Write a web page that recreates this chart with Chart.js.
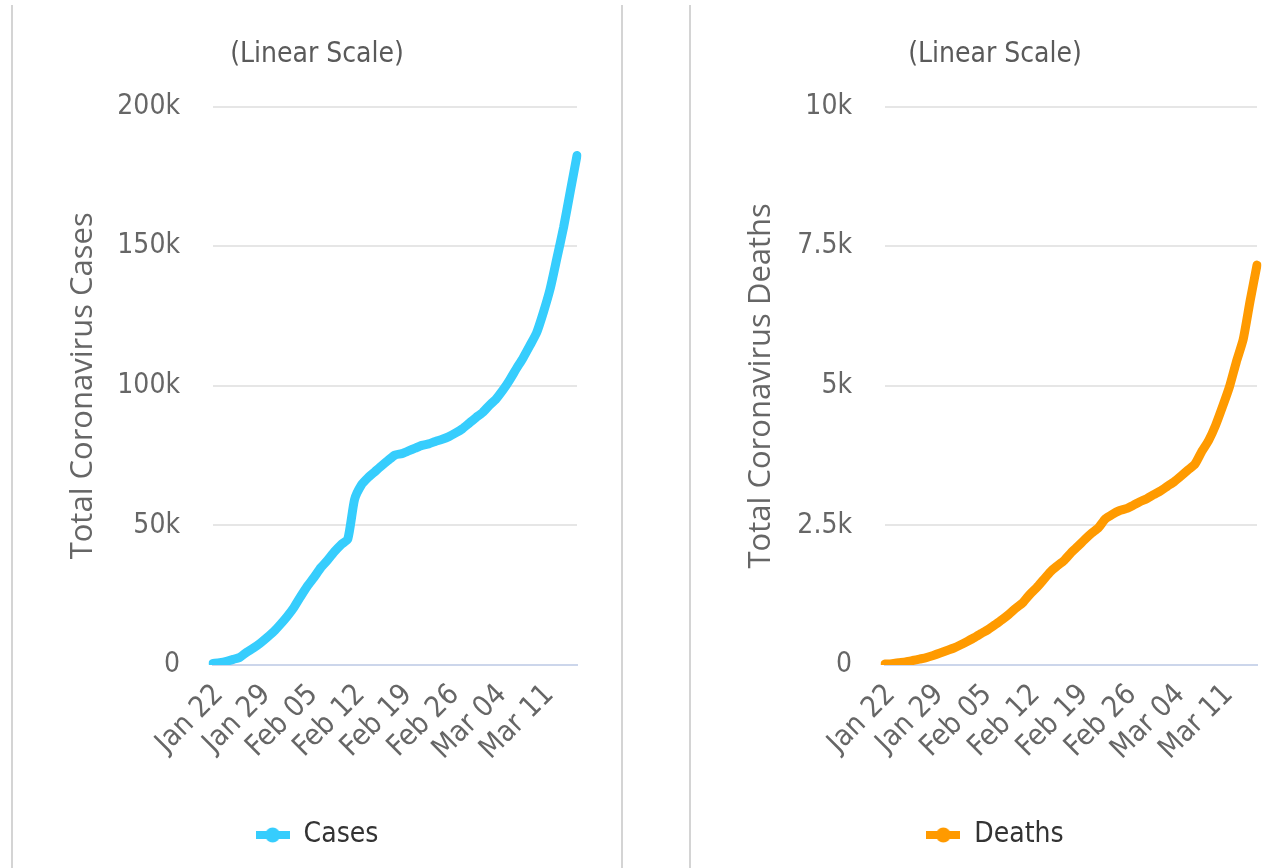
<!DOCTYPE html>
<html>
<head>
<meta charset="utf-8">
<script src="https://cdn.jsdelivr.net/npm/chart.js@4"></script>
<style>
  body { margin: 0; background: #fff; overflow: hidden; width: 1286px; height: 868px; position: relative; }
  .edge { position: absolute; top: 5px; bottom: 0; width: 2px; background: #d4d4d4; }
  .box { position: absolute; top: 0; width: 610px; height: 868px; }
</style>
</head>
<body>
<div class="edge" style="left:11px"></div>
<div class="edge" style="left:621px"></div>
<div class="edge" style="left:689px"></div>
<div class="box" style="left:12px"><canvas id="casesChart"></canvas></div>
<div class="box" style="left:690px"><canvas id="deathsChart"></canvas></div>
<script>
// dates, Jan 22 -> Mar 16 (2020)
const dates = [
  "Jan 22","Jan 23","Jan 24","Jan 25","Jan 26","Jan 27","Jan 28","Jan 29","Jan 30","Jan 31",
  "Feb 01","Feb 02","Feb 03","Feb 04","Feb 05","Feb 06","Feb 07","Feb 08","Feb 09","Feb 10",
  "Feb 11","Feb 12","Feb 13","Feb 14","Feb 15","Feb 16","Feb 17","Feb 18","Feb 19","Feb 20",
  "Feb 21","Feb 22","Feb 23","Feb 24","Feb 25","Feb 26","Feb 27","Feb 28","Feb 29",
  "Mar 01","Mar 02","Mar 03","Mar 04","Mar 05","Mar 06","Mar 07","Mar 08","Mar 09","Mar 10",
  "Mar 11","Mar 12","Mar 13","Mar 14","Mar 15","Mar 16"
];

const totalCases = [
  580, 845, 1317, 2015, 2800, 4581, 6058, 7813, 9823, 11950,
  14553, 17391, 20630, 24545, 28266, 31439, 34876, 37552, 40553, 43099,
  45134, 59287, 64438, 67100, 69197, 71329, 73332, 75184, 75700, 76677,
  77673, 78651, 79205, 80087, 80828, 81820, 83112, 84615, 86604,
  88585, 90443, 93016, 95314, 98425, 102050, 106099, 109991, 114381, 118948,
  126214, 134576, 145483, 156653, 169593, 182490
];

const totalDeaths = [
  17, 25, 41, 56, 80, 106, 132, 170, 213, 259,
  304, 362, 426, 492, 565, 638, 724, 813, 910, 1018,
  1115, 1261, 1383, 1526, 1669, 1775, 1873, 2009, 2126, 2247,
  2360, 2460, 2618, 2699, 2763, 2800, 2858, 2923, 2977,
  3050, 3117, 3202, 3285, 3387, 3494, 3599, 3827, 4025, 4296,
  4628, 4981, 5428, 5833, 6520, 7162
];

const casesTicks = [0, 50000, 100000, 150000, 200000];
const deathsTicks = [0, 2500, 5000, 7500, 10000];

const narrow = '"Liberation Sans Narrow", "DejaVu Sans Condensed", sans-serif';
const wide = '"Open Sans", "Noto Sans", sans-serif';

function kLabel(v) {
  return v === 0 ? "0" : (v / 1000) + "k";
}

// legend symbol: short thick line with a dot in the middle
function legendSymbol(color) {
  const c = document.createElement("canvas");
  c.width = 34; c.height = 16;
  const g = c.getContext("2d");
  g.fillStyle = color;
  g.fillRect(0, 4, 34, 8);
  g.beginPath();
  g.arc(17, 8, 7.5, 0, Math.PI * 2);
  g.fill();
  return c;
}

function makeChart(id, label, values, ticks, color, axisTitle, axisWidth, padRight) {
  return new Chart(document.getElementById(id), {
    type: "line",
    data: {
      labels: dates,
      datasets: [{
        label: label,
        data: values,
        borderColor: color,
        backgroundColor: color,
        borderWidth: 9,
        borderCapStyle: "round",
        borderJoinStyle: "round",
        pointRadius: 0,
        tension: 0.2
      }]
    },
    options: {
      responsive: true,
      maintainAspectRatio: false,
      animation: false,
      layout: { padding: { left: 0, right: 0, top: 0, bottom: 9 } },
      plugins: {
        title: {
          display: true,
          text: "(Linear Scale)",
          color: "#5a5a5a",
          font: { family: narrow, size: 28, weight: "normal", lineHeight: 1.2 },
          padding: { top: 38, bottom: 35 }
        },
        legend: {
          position: "bottom",
          labels: {
            usePointStyle: true,
            pointStyle: legendSymbol(color),
            pointStyleWidth: 34,
            color: "#333",
            padding: 10,
            font: { family: narrow, size: 28 }
          }
        },
        tooltip: { enabled: false }
      },
      scales: {
        x: {
          grid: { display: false },
          border: { display: true, color: "#ccd6eb", width: 2 },
          afterFit: s => { s.height = 146; },
          ticks: {
            autoSkip: false,
            maxRotation: 45,
            minRotation: 45,
            labelOffset: 6,
            padding: 5,
            color: "#666",
            font: { family: narrow, size: 29 },
            callback: (v, i) => (i % 7 === 0 ? dates[i] : null)
          }
        },
        y: {
          min: ticks[0],
          max: ticks[ticks.length - 1],
          afterFit: s => { s.width = axisWidth; },
          afterBuildTicks: s => { s.ticks = ticks.map(v => ({ value: v })); },
          border: { display: false },
          grid: {
            drawTicks: false,
            lineWidth: 2,
            color: c => (c.tick && c.tick.value === 0 ? "#ccd6eb" : "#e6e6e6")
          },
          ticks: {
            padding: 33,
            color: "#666",
            font: { family: narrow, size: 28 },
            callback: v => kLabel(v)
          },
          title: {
            display: true,
            text: axisTitle,
            color: "#666",
            font: { family: wide, size: 31, lineHeight: 1.2 },
            padding: { top: 53, bottom: 0 }
          }
        },
        // empty right-hand spacer so the title and legend stay centred on the card
        spacer: {
          type: "linear",
          position: "right",
          display: true,
          grid: { display: false },
          border: { display: false },
          ticks: { display: false },
          afterFit: s => { s.width = padRight; }
        }
      }
    }
  });
}

makeChart("casesChart", "Cases", totalCases, casesTicks, "#36cdfd", "Total Coronavirus Cases", 201, 45);
makeChart("deathsChart", "Deaths", totalDeaths, deathsTicks, "#ff9a00", "Total Coronavirus Deaths", 195, 43);
</script>
</body>
</html>
